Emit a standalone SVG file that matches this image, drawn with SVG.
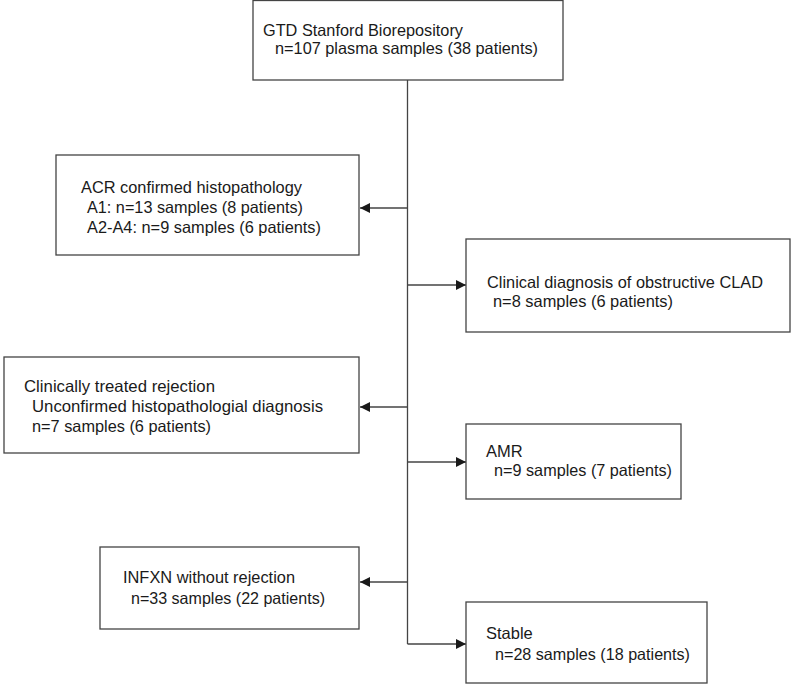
<svg xmlns="http://www.w3.org/2000/svg" width="791" height="685" viewBox="0 0 791 685">
<style>
.box{fill:#fff;stroke:#444;stroke-width:1.3}
.line{fill:none;stroke:#444;stroke-width:1.3}
text{font-family:"Liberation Sans",Arial,sans-serif;font-size:16.5px;fill:#1a1a1a}
</style>
<defs>
<marker id="arr" viewBox="0 0 10 10" refX="10" refY="5" markerWidth="10" markerHeight="10" markerUnits="userSpaceOnUse" orient="auto">
<path d="M0,0 L10,5 L0,10 z" fill="#1a1a1a"/>
</marker>
</defs>
<rect width="791" height="685" fill="#fff"/>
<g id="connectors">
<line class="line" x1="407.5" y1="80" x2="407.5" y2="644"/>
<line class="line" x1="407.5" y1="208" x2="360" y2="208" marker-end="url(#arr)"/>
<line class="line" x1="407.5" y1="285" x2="466" y2="285" marker-end="url(#arr)"/>
<line class="line" x1="407.5" y1="407" x2="360" y2="407" marker-end="url(#arr)"/>
<line class="line" x1="407.5" y1="462" x2="466" y2="462" marker-end="url(#arr)"/>
<line class="line" x1="407.5" y1="582" x2="360" y2="582" marker-end="url(#arr)"/>
<line class="line" x1="407.5" y1="644" x2="466" y2="644" marker-end="url(#arr)"/>
</g>
<g id="biorepository">
<rect class="box" x="253" y="0.5" width="310" height="79.5"/>
<text x="263" y="36" textLength="200" lengthAdjust="spacingAndGlyphs">GTD Stanford Biorepository</text>
<text x="275" y="54" textLength="263" lengthAdjust="spacingAndGlyphs">n=107 plasma samples (38 patients)</text>
</g>
<g id="acr">
<rect class="box" x="56" y="155" width="303" height="100"/>
<text x="81" y="193" textLength="221" lengthAdjust="spacingAndGlyphs">ACR confirmed histopathology</text>
<text x="87" y="213" textLength="216" lengthAdjust="spacingAndGlyphs">A1: n=13 samples (8 patients)</text>
<text x="87" y="233" textLength="234" lengthAdjust="spacingAndGlyphs">A2-A4: n=9 samples (6 patients)</text>
</g>
<g id="clad">
<rect class="box" x="466" y="239" width="324" height="93"/>
<text x="487" y="288" textLength="276" lengthAdjust="spacingAndGlyphs">Clinical diagnosis of obstructive CLAD</text>
<text x="493" y="307" textLength="180" lengthAdjust="spacingAndGlyphs">n=8 samples (6 patients)</text>
</g>
<g id="clinically-treated">
<rect class="box" x="4" y="357" width="355" height="96"/>
<text x="24" y="392" textLength="191" lengthAdjust="spacingAndGlyphs">Clinically treated rejection</text>
<text x="32" y="412" textLength="291" lengthAdjust="spacingAndGlyphs">Unconfirmed histopathologial diagnosis</text>
<text x="32" y="432" textLength="179" lengthAdjust="spacingAndGlyphs">n=7 samples (6 patients)</text>
</g>
<g id="amr">
<rect class="box" x="466" y="424" width="215" height="75"/>
<text x="486" y="457">AMR</text>
<text x="494" y="476" textLength="178" lengthAdjust="spacingAndGlyphs">n=9 samples (7 patients)</text>
</g>
<g id="infxn">
<rect class="box" x="100" y="547" width="259" height="82"/>
<text x="123" y="583" textLength="172" lengthAdjust="spacingAndGlyphs">INFXN without rejection</text>
<text x="131" y="604" textLength="194" lengthAdjust="spacingAndGlyphs">n=33 samples (22 patients)</text>
</g>
<g id="stable">
<rect class="box" x="466" y="602" width="241" height="81"/>
<text x="486" y="639">Stable</text>
<text x="495" y="660" textLength="195" lengthAdjust="spacingAndGlyphs">n=28 samples (18 patients)</text>
</g>
</svg>
